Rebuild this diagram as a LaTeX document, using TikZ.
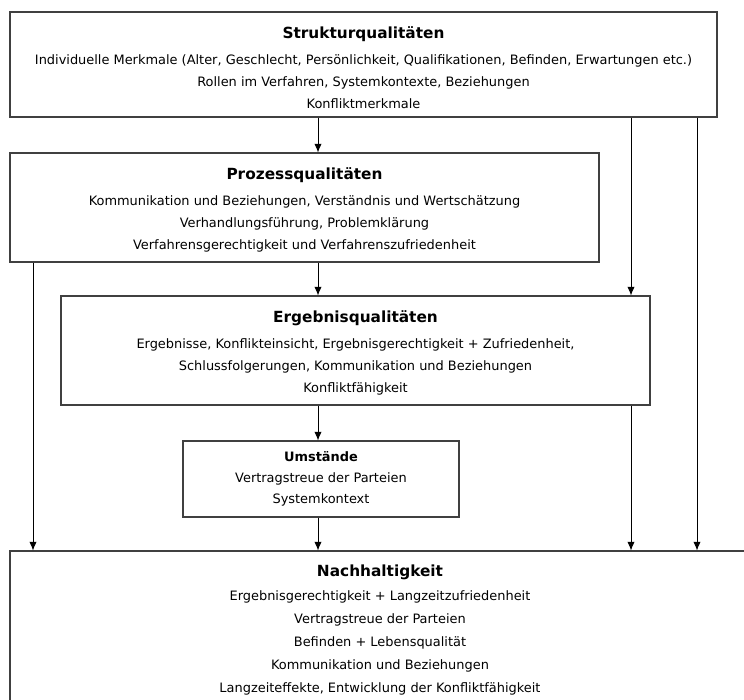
\documentclass[tikz,border=0pt]{standalone}
\usepackage{fontspec}
\setmainfont{DejaVu Sans}
\usetikzlibrary{arrows.meta}

\tikzset{
  box/.style={draw=black!75,line width=0.8pt,rectangle,align=center,inner sep=0pt,
    font=\fontsize{9.7}{16.5}\selectfont},
  arr/.style={-{Latex[length=6.5pt,width=5.5pt]},line width=0.6pt}
}
\newcommand{\boxtitle}[2][3pt]{{\fontsize{11.5}{13}\selectfont\bfseries\rule{0pt}{13pt}#2}\\[#1]}
\newcommand{\smalltitle}[1]{{\bfseries #1}\\[0pt]}

\begin{document}
\begin{tikzpicture}[x=0.75pt,y=-0.75pt]
\useasboundingbox (0,0) rectangle (744,700);
\clip (0,0) rectangle (744,700);
% boxes
\node[box,minimum width=530.25pt,minimum height=78.75pt] (struk) at (363.5,64.5)
  {\boxtitle{Strukturqualitäten}
   Individuelle Merkmale (Alter, Geschlecht, Persönlichkeit, Qualifikationen, Befinden, Erwartungen etc.)\\
   Rollen im Verfahren, Systemkontexte, Beziehungen\\
   Konfliktmerkmale};
\node[box,minimum width=441.75pt,minimum height=81.75pt] (proz) at (304.5,207.5)
  {\boxtitle{Prozessqualitäten}
   Kommunikation und Beziehungen, Verständnis und Wertschätzung\\
   Verhandlungsführung, Problemklärung\\
   Verfahrensgerechtigkeit und Verfahrenszufriedenheit};
\node[box,minimum width=441.75pt,minimum height=81.75pt] (erg) at (355.5,350.5)
  {\boxtitle{Ergebnisqualitäten}
   Ergebnisse, Konflikteinsicht, Ergebnisgerechtigkeit + Zufriedenheit,\\
   Schlussfolgerungen, Kommunikation und Beziehungen\\
   Konfliktfähigkeit};
\node[box,minimum width=207pt,minimum height=57pt,font=\fontsize{9.7}{15.5}\selectfont] (umst) at (321,479)
  {\smalltitle{Umstände}
   Vertragstreue der Parteien\\
   Systemkontext};
\node[box,minimum width=555pt,minimum height=114pt,font=\fontsize{9.7}{17.2}\selectfont] (nach) at (380,627)
  {\boxtitle[0.75pt]{Nachhaltigkeit}
   Ergebnisgerechtigkeit + Langzeitzufriedenheit\\
   Vertragstreue der Parteien\\
   Befinden + Lebensqualität\\
   Kommunikation und Beziehungen\\
   Langzeiteffekte, Entwicklung der Konfliktfähigkeit};
% columns of the arrows
\coordinate (cA) at (33,0);
\coordinate (cB) at (318,0);
\coordinate (cC) at (631,0);
\coordinate (cD) at (697,0);
% arrows
\draw[arr] (struk.south -| cB) -- (proz.north -| cB);
\draw[arr] (struk.south -| cC) -- (erg.north -| cC);
\draw[arr] (struk.south -| cD) -- (nach.north -| cD);
\draw[arr] (proz.south -| cA) -- (nach.north -| cA);
\draw[arr] (proz.south -| cB) -- (erg.north -| cB);
\draw[arr] (erg.south -| cB) -- (umst.north -| cB);
\draw[arr] (erg.south -| cC) -- (nach.north -| cC);
\draw[arr] (umst.south -| cB) -- (nach.north -| cB);
\end{tikzpicture}
\end{document}
